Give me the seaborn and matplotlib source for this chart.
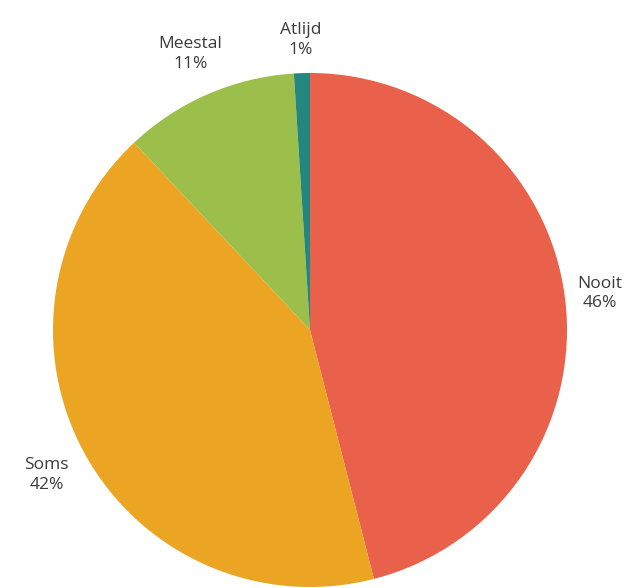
import matplotlib
matplotlib.use("Agg")
import matplotlib.pyplot as plt
import seaborn as sns
import numpy as np

categories = ["Nooit", "Soms", "Meestal", "Atlijd"]
values = [46, 42, 11, 1]
colors = ["#E9604B", "#EBA523", "#9CBF4B", "#23877F"]
label_dist = [1.135, 1.17, 1.17, 1.13]

sns.set_theme(style="white")
plt.rcParams["font.family"] = ["Open Sans", "DejaVu Sans"]

fig = plt.figure(figsize=(6.27, 5.88), dpi=100)
ax = fig.add_axes([0, 0, 1, 1])
ax.set_axis_off()

wedges, texts = ax.pie(
    values,
    labels=[f"{c}\n{v}%" for c, v in zip(categories, values)],
    colors=colors,
    startangle=90,
    counterclock=False,
    radius=1.0,
    labeldistance=1.15,
    wedgeprops=dict(linewidth=0),
    textprops=dict(fontsize=12.5, color="#3a3a3a", linespacing=1.3),
)
# place each label centred on its wedge's mid-angle
for w, t, d in zip(wedges, texts, label_dist):
    mid = np.deg2rad((w.theta1 + w.theta2) / 2)
    t.set_position((d * np.cos(mid), d * np.sin(mid)))
    t.set_horizontalalignment("center")
    t.set_verticalalignment("center")

scale = 257.0
ax.set_xlim(-310 / scale, (627 - 310) / scale)
ax.set_ylim(-(588 - 330) / scale, 330 / scale)
ax.set_aspect("auto")

fig.savefig("out.png", dpi=100, facecolor="white")
